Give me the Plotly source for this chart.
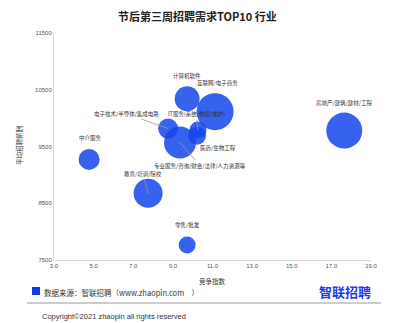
import plotly.graph_objects as go

industries = ["中介服务", "计算机软件", "互联网/电子商务", "电子技术/半导体/集成电路",
              "IT服务(系统/数据/维护)", "医药/生物工程", "专业服务/咨询/财会/法律/人力资源等",
              "教育/培训/院校", "零售/批发", "房地产/建筑/建材/工程"]
competition = [4.77, 9.72, 11.13, 8.76, 10.27, 10.22, 9.36, 7.75, 9.72, 17.65]
salary = [9272, 10342, 10114, 9816, 9790, 9690, 9570, 8675, 7763, 9780]
bubble = [21, 25, 37, 20, 17, 18, 32, 29, 17, 36]

W, H = 400, 323
L, R, T, B = 54, 29, 33, 63
PW, PH = W - L - R, H - T - B

def px(x):
    return (x - L) / PW

def py(y):
    return (H - B - y) / PH

FONT = "Noto Sans CJK SC, Noto Sans, sans-serif"
LAT = "Liberation Sans, Arial, sans-serif"

fig = go.Figure()
fig.add_trace(go.Scatter(
    x=competition, y=salary, mode="markers",
    marker=dict(size=bubble, sizemode="diameter", color="rgb(20,70,235)",
                opacity=0.85, line=dict(width=0)),
    hovertext=industries, showlegend=False,
))

# label offsets (pixels) relative to bubble centre: (dx, dy, with_line)
label_style = {
    "中介服务": (1, -21, False),
    "计算机软件": (0, -23, False),
    "互联网/电子商务": (2, -29, False),
    "电子技术/半导体/集成电路": (-42, -15, True),
    "IT服务(系统/数据/维护)": (-2, -16, True),
    "医药/生物工程": (21, 12, False),
    "专业服务/咨询/财会/法律/人力资源等": (20, 23, True),
    "教育/培训/院校": (-5, -19, True),
    "零售/批发": (0, -20, False),
    "房地产/建筑/建材/工程": (0, -28, False),
}

for name, xv, yv in zip(industries, competition, salary):
    dx, dy, line = label_style[name]
    if line:
        fig.add_annotation(x=xv, y=yv, ax=dx, ay=dy, text=name, showarrow=True,
                           arrowhead=0, arrowwidth=0.8, arrowcolor="#999999",
                           standoff=0, startstandoff=0,
                           font=dict(family=FONT, size=5.5, color="#333333"))
    else:
        fig.add_annotation(x=xv, y=yv, xshift=dx, yshift=-dy, text=name, showarrow=False,
                           font=dict(family=FONT, size=5.5, color="#333333"))

def ptext(x, y, text, size, family=FONT, color="#333333", xanchor="center", angle=0):
    fig.add_annotation(xref="paper", yref="paper", x=px(x), y=py(y), xanchor=xanchor,
                       yanchor="middle", text=text, showarrow=False, textangle=angle,
                       font=dict(family=family, size=size, color=color))

# title
ptext(197, 16, "<b>节后第三周招聘需求TOP10 行业</b>", 11, color="#222222")
# axis titles
ptext(212, 281, "竞争指数", 6.5)
ptext(19, 146, "平均招聘薪酬", 6.5, angle=-90)
# legend / footer
fig.add_shape(type="rect", xref="paper", yref="paper", x0=px(32), x1=px(40), y0=py(287), y1=py(295),
              fillcolor="#0a3cf0", line=dict(width=0))
ptext(42, 292, "数据来源：智联招聘（www.zhaopin.com　）", 7.5, xanchor="left")
fig.add_shape(type="line", xref="paper", yref="paper", x0=px(27), x1=px(381), y0=py(303), y1=py(303),
              line=dict(color="#999999", width=1))
ptext(40, 316, "Copyright©2021 zhaopin all rights reserved", 7.5, family=LAT, xanchor="left")
ptext(373, 291, "<b>智联招聘</b>", 13, color="#1a3ff0", xanchor="right")

fig.update_xaxes(range=[3, 19], dtick=2, tick0=3, tickformat=".1f", showgrid=False, zeroline=False,
                 showline=True, linecolor="#d8d8d8", linewidth=1, ticks="",
                 tickfont=dict(family=LAT, size=6, color="#555555"))
fig.update_yaxes(range=[7500, 11500], dtick=1000, tick0=7500, tickformat="d", showgrid=False,
                 zeroline=False, showline=True, linecolor="#d8d8d8", linewidth=1, ticks="",
                 tickfont=dict(family=LAT, size=6, color="#555555"))

fig.update_layout(width=W, height=H, margin=dict(l=L, r=R, t=T, b=B),
                  plot_bgcolor="white", paper_bgcolor="white", showlegend=False)

fig.write_html("out.html")
